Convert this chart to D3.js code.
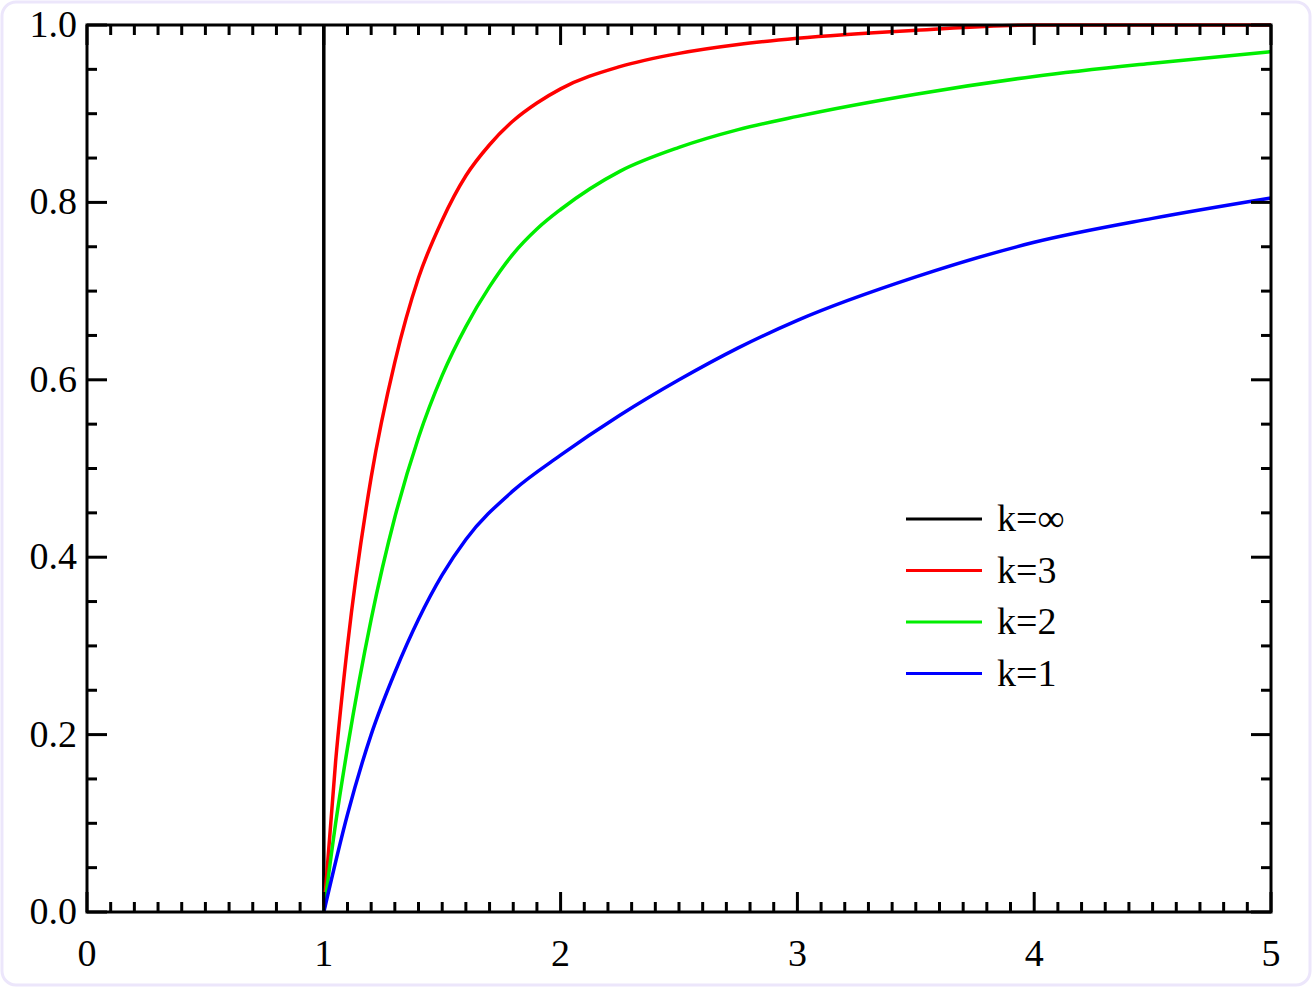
<!DOCTYPE html>
<html>
<head>
<meta charset="utf-8">
<script src="https://cdn.jsdelivr.net/npm/d3@7"></script>
<style>
    body { margin: 0; background: #fff; }
    text { font-family: "Liberation Serif", "Times New Roman", Times, serif; }
</style>
</head>
<body>
<script>
"use strict";

const WIDTH = 1312;
const HEIGHT = 987;
const MARGIN = { left: 87, right: 41, top: 25, bottom: 75 };

const xTicks = [0, 1, 2, 3, 4, 5];
const yTicks = [0, 0.2, 0.4, 0.6, 0.8, 1.0];

const xRed = [1, 1.05, 1.1, 1.2, 1.3, 1.4, 1.5, 1.6, 1.7, 1.8, 1.9, 2, 2.25, 2.5, 2.75, 3, 3.5, 4, 5];
const yRed = [0, 0.17, 0.30, 0.49, 0.62, 0.715, 0.78, 0.83, 0.865, 0.892, 0.912, 0.928, 0.953, 0.968, 0.978, 0.985, 0.994, 1, 1];

const xGreen = [1, 1.05, 1.1, 1.2, 1.3, 1.4, 1.5, 1.6, 1.7, 1.8, 1.9, 2, 2.25, 2.5, 2.75, 3, 3.5, 4, 4.5, 5];
const yGreen = [0, 0.10, 0.185, 0.33, 0.445, 0.535, 0.605, 0.66, 0.705, 0.742, 0.77, 0.792, 0.835, 0.862, 0.882, 0.897, 0.922, 0.942, 0.957, 0.97];

const xBlue = [1, 1.1, 1.2, 1.3, 1.4, 1.5, 1.6, 1.8, 2, 2.25, 2.5, 2.75, 3, 3.5, 4, 4.5, 5];
const yBlue = [0, 0.11, 0.20, 0.27, 0.33, 0.38, 0.42, 0.475, 0.515, 0.56, 0.6, 0.636, 0.667, 0.716, 0.755, 0.782, 0.805];

const series = [
    { label: "k=\u221e", color: "#000", xs: [1, 1], ys: [0, 1] },
    { label: "k=3", color: "#ff0000", xs: xRed, ys: yRed },
    { label: "k=2", color: "#00ee00", xs: xGreen, ys: yGreen },
    { label: "k=1", color: "#0000ff", xs: xBlue, ys: yBlue }
];

const svg = d3.select("body").append("svg")
    .attr("width", WIDTH)
    .attr("height", HEIGHT);

svg.append("rect")
    .attr("x", 2).attr("y", 2)
    .attr("width", WIDTH - 4).attr("height", HEIGHT - 4)
    .attr("rx", 14)
    .attr("fill", "#fff")
    .attr("stroke", "#ece6fb")
    .attr("stroke-width", 3);

const x = d3.scaleLinear().domain([0, 5]).range([MARGIN.left, WIDTH - MARGIN.right]);
const y = d3.scaleLinear().domain([0, 1]).range([HEIGHT - MARGIN.bottom, MARGIN.top]);

const plot = svg.append("g");

// Curves
const line = d3.line().x(d => x(d[0])).y(d => y(d[1])).curve(d3.curveMonotoneX);
series.forEach(s => {
    const pts = s.xs.map((v, i) => [v, s.ys[i]]);
    plot.append("path")
        .attr("d", line(pts))
        .attr("fill", "none")
        .attr("stroke", s.color)
        .attr("stroke-width", 3.5);
});

// Frame
plot.append("rect")
    .attr("x", x(0)).attr("y", y(1))
    .attr("width", x(5) - x(0)).attr("height", y(0) - y(1))
    .attr("fill", "none").attr("stroke", "#000").attr("stroke-width", 3);

// Inward ticks on all four sides
const ticks = plot.append("g").attr("stroke", "#000").attr("stroke-width", 3);
d3.range(0, 51).forEach(i => {
    const v = i / 10;
    const len = i % 10 === 0 ? 20 : 10;
    ticks.append("line").attr("x1", x(v)).attr("x2", x(v)).attr("y1", y(0)).attr("y2", y(0) - len);
    ticks.append("line").attr("x1", x(v)).attr("x2", x(v)).attr("y1", y(1)).attr("y2", y(1) + len);
});
d3.range(0, 21).forEach(i => {
    const v = i / 20;
    const len = i % 4 === 0 ? 20 : 10;
    ticks.append("line").attr("y1", y(v)).attr("y2", y(v)).attr("x1", x(0)).attr("x2", x(0) + len);
    ticks.append("line").attr("y1", y(v)).attr("y2", y(v)).attr("x1", x(5)).attr("x2", x(5) - len);
});

// Tick labels
plot.selectAll(".xlab").data(xTicks).enter().append("text")
    .attr("x", d => x(d)).attr("y", y(0) + 54)
    .attr("text-anchor", "middle").attr("font-size", 38)
    .text(d => d);
plot.selectAll(".ylab").data(yTicks).enter().append("text")
    .attr("x", x(0) - 10).attr("y", d => y(d) + 12)
    .attr("text-anchor", "end").attr("font-size", 38)
    .text(d => d.toFixed(1));

// Legend
const legend = svg.append("g").attr("transform", "translate(906, 519)");
series.forEach((s, i) => {
    legend.append("line")
        .attr("x1", 0).attr("x2", 76).attr("y1", i * 51.5).attr("y2", i * 51.5)
        .attr("stroke", s.color).attr("stroke-width", 3);
    legend.append("text")
        .attr("x", 91).attr("y", i * 51.5 + 12)
        .attr("font-size", 38)
        .text(s.label);
});
</script>
</body>
</html>
